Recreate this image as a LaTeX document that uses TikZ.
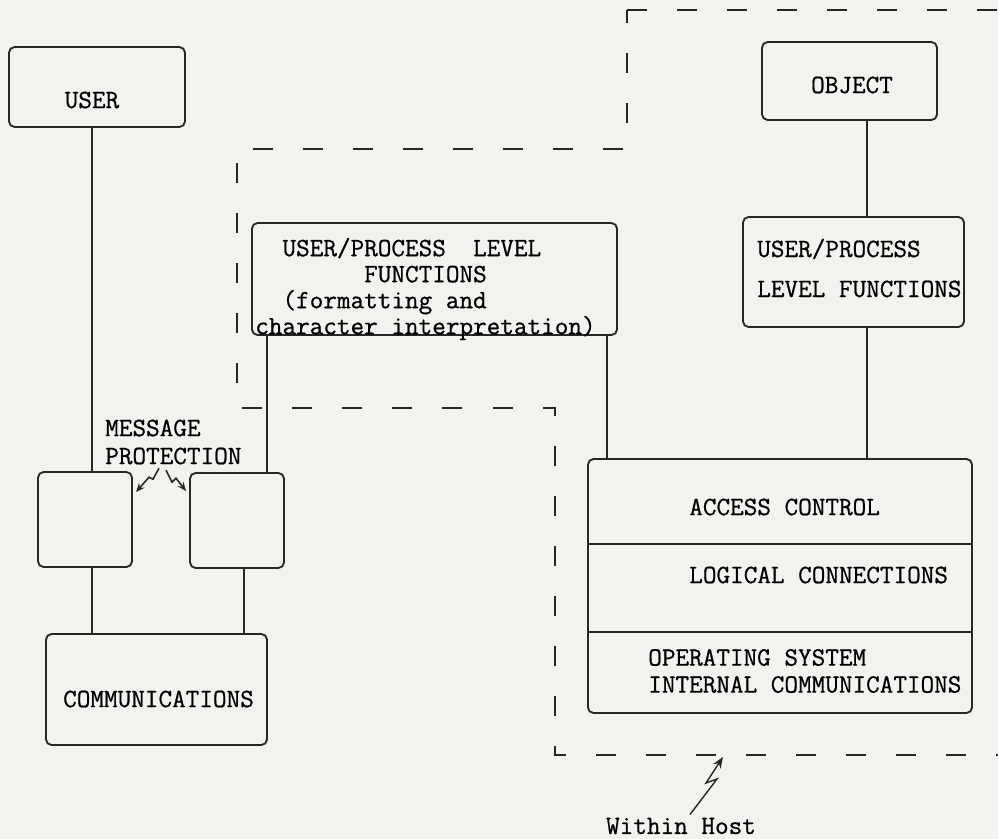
\documentclass[tikz,border=0pt]{standalone}
\usepackage{fontspec}
\setmonofont{Latin Modern Mono}[FakeBold=0.7]
\usetikzlibrary{positioning,calc,arrows.meta}
\definecolor{paper}{RGB}{242,242,238}
\definecolor{ink}{RGB}{38,38,38}

\begin{document}
\begin{tikzpicture}
            [x=0.025cm, y=-0.025cm, inner sep=0pt,
            font=\ttfamily\fontsize{18.8}{19}\selectfont,
            box/.style={draw=ink, line width=1.3pt, rounded corners=4pt},
            link/.style={draw=ink, line width=1pt},
            boundary/.style={draw=ink, line width=1.3pt, dash pattern=on 0.5cm off 0.75cm},
            bolt/.style={draw=ink, line width=1pt, -{Stealth[length=2.8mm, width=2.2mm]}},
            smallbolt/.style={draw=ink, line width=1.1pt, -{Stealth[length=2.2mm, width=1.8mm]}}]
            \path [use as bounding box, fill=paper] (0,0) rectangle (998,839);

            % host boundary
            \draw [boundary] (627,10) -- (999,10) -- (999,755) -- (555,755) -- (555,408)
                -- (237,408) -- (237,149) -- (627,149) -- cycle;

            % boxes
            \node [box, minimum width=4.4cm, minimum height=2cm] (user) at (97,87) {};
            \node (usertext) at (92,100) {USER};
            \node [box, minimum width=4.375cm, minimum height=1.95cm] (object) at (849.5,81) {};
            \node (objecttext) at (852,85) {OBJECT};
            \node [box, minimum width=9.125cm, minimum height=2.8cm] (uplfl) at (434.5,279) {};
            \node [anchor=west, align=left, font=\ttfamily\fontsize{18.8}{18.5}\selectfont] (uplfltext) at (255,289)
                {\hphantom{00}USER/PROCESS\hphantom{00}LEVEL\\
                 \hphantom{00000000}FUNCTIONS\\
                 \hphantom{00}(formatting and\\
                 character interpretation)};
            \node [box, minimum width=5.525cm, minimum height=2.75cm] (uplfr) at (853.5,272) {};
            \node [anchor=west, align=left, font=\ttfamily\fontsize{18.8}{28.45}\selectfont] (uplfrtext) at (757,268)
                {USER/PROCESS\\LEVEL FUNCTIONS};
            \node [box, minimum width=2.35cm, minimum height=2.375cm] (msgl) at (85,519.5) {};
            \node [box, minimum width=2.35cm, minimum height=2.375cm] (msgr) at (237,520.5) {};
            \node [box, minimum width=5.525cm, minimum height=2.775cm] (comms) at (156.5,689.5) {};
            \node (commstext) at (158.5,699) {COMMUNICATIONS};
            \node [box, minimum width=9.6cm, minimum height=6.35cm] (hostfuncs) at (780,586) {};
            \coordinate (div1) at (0,544);
            \coordinate (div2) at (0,632);
            \draw [link] (hostfuncs.west |- div1) -- (hostfuncs.east |- div1);
            \draw [link] (hostfuncs.west |- div2) -- (hostfuncs.east |- div2);
            \node [anchor=west] (access) at (689,507) {ACCESS CONTROL};
            \node [anchor=west] (logical) at (689,575) {LOGICAL CONNECTIONS};
            \node [anchor=west, align=left, font=\ttfamily\fontsize{18.8}{19.2}\selectfont] (opsys) at (648,671)
                {OPERATING SYSTEM\\INTERNAL COMMUNICATIONS};

            % connectors
            \coordinate (xu) at (92,0);
            \coordinate (xl) at (267,0);
            \coordinate (xb) at (244,0);
            \coordinate (xm) at (607,0);
            \coordinate (xr) at (867,0);
            \draw [link] (user.south -| xu) -- (msgl.north -| xu);
            \draw [link] (msgl.south -| xu) -- (comms.north -| xu);
            \draw [link] (uplfl.south -| xl) -- (msgr.north -| xl);
            \draw [link] (msgr.south -| xb) -- (comms.north -| xb);
            \draw [link] (uplfl.south -| xm) -- (hostfuncs.north -| xm);
            \draw [link] (object.south -| xr) -- (uplfr.north -| xr);
            \draw [link] (uplfr.south -| xr) -- (hostfuncs.north -| xr);

            % message protection
            \node [anchor=west, align=left, font=\ttfamily\fontsize{18.8}{19.9}\selectfont] (msgprot) at (105,442)
                {MESSAGE\\PROTECTION};
            \coordinate (msgtipl) at (136,492);
            \coordinate (msgtipr) at (186,491);
            \draw [smallbolt] ($(msgprot.south west)+(54,3.5)$) -- ++(-6,11) -- ++(-4,-2) -- (msgtipl);
            \draw [smallbolt] ($(msgprot.south west)+(61,5.5)$) -- ++(6,12) -- ++(4,-4) -- (msgtipr);

            % within host
            \node (withinhost) at (681,826) {Within Host};
            \coordinate (hosttip) at (723,757);
            \draw [bolt] ($(withinhost.north)+(9,-3)$) -- (717,779) -- (706,783) -- (hosttip);
\end{tikzpicture}
\end{document}
